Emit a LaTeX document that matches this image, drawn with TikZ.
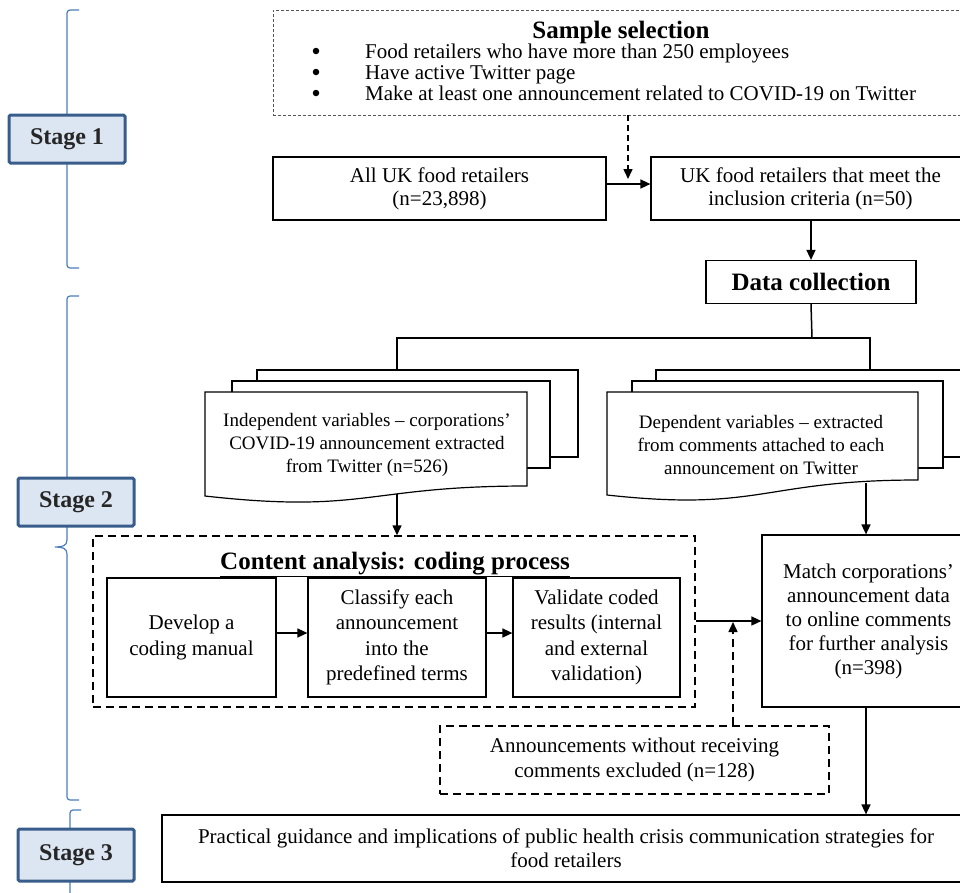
\documentclass[tikz,border=0pt]{standalone}
\usepackage{fontspec}
\setmainfont{Liberation Serif}
\usetikzlibrary{arrows.meta}
\definecolor{stageborder}{HTML}{385D8A}
\definecolor{stagefill}{HTML}{DCE6F2}
\definecolor{braceblue}{HTML}{4A7EBB}
\definecolor{selgray}{HTML}{555555}
\begin{document}
\begin{tikzpicture}[x=1pt,y=-1pt,
  txt/.style={font=\fontsize{21}{23}\selectfont, align=center, inner sep=0pt},
  doctxt/.style={font=\fontsize{19}{23}\selectfont, align=center, inner sep=0pt},
  box/.style={txt, draw, line width=1.2pt, fill=white},
  title/.style={font=\fontsize{25}{28}\selectfont\bfseries, inner sep=0pt},
  arr/.style={-{Triangle[length=10pt,width=9pt]}, line width=1.5pt},
  ln/.style={line width=1.5pt},
  dashbox/.style={draw, line width=1.5pt, dash pattern=on 8pt off 5pt},
  dasharr/.style={-{Triangle[length=10pt,width=9pt]}, line width=1.5pt, dash pattern=on 8pt off 5pt},
  docline/.style={line width=1.2pt, fill=white},
  stagebox/.style={draw=stageborder, line width=3pt, fill=stagefill, rounded corners=1.5pt,
    minimum width=116pt, font=\fontsize{24}{28}\selectfont\bfseries, text=black!85},
  brace/.style={draw=braceblue, line width=1.2pt, rounded corners=3pt},
  bul/.style={circle, fill=black, inner sep=0pt, minimum size=6.5pt}
]
\useasboundingbox (0,0) rectangle (960,892);
\clip (0,0) rectangle (960,892);

% ---- stage braces
\draw[brace] (79,10) -- (67,10) -- (67,268) -- (79,268);
\draw[brace] (79,296) -- (67,296) -- (67,540);
\draw[draw=braceblue, line width=1.2pt] (67,540) .. controls (67,546) and (62,547) .. (55,547)
   .. controls (62,547) and (67,548) .. (67,554);
\draw[brace] (67,554) -- (67,800) -- (79,800);
\draw[brace] (81,810) -- (70,810) -- (70,900);

% ---- stage boxes
\node[stagebox, minimum height=48pt] (s1) at (67,139) {Stage 1};
\node[stagebox, minimum height=48pt] (s2) at (76,502) {Stage 2};
\node[stagebox, minimum height=52pt] (s3) at (76,855) {Stage 3};

% ---- stage 1
\node[draw=selgray, line width=0.9pt, dash pattern=on 3pt off 2pt, minimum width=693pt, minimum height=105pt, inner sep=0pt] (sel) at (619.5,62.5) {};
\node[title, anchor=base] (seltitle) at (621,38) {Sample selection};
\node[bul] (b1) at (316,51) {};
\node[bul] (b2) at (316,72) {};
\node[bul] (b3) at (316,93) {};
\node[txt, anchor=base west] (c1) at (365,58) {Food retailers who have more than 250 employees};
\node[txt, anchor=base west] (c2) at (365,79) {Have active Twitter page};
\node[txt, anchor=base west] (c3) at (365,100) {Make at least one announcement related to COVID-19 on Twitter};

\node[box, minimum width=333pt, minimum height=63pt] (all) at (439.5,188.5) {All UK food retailers\\(n=23,898)};
\node[box, minimum width=319pt, minimum height=63pt] (meet) at (810.5,188.5) {UK food retailers that meet the\\inclusion criteria (n=50)};
\coordinate (selhit) at (628,179);
\draw[dasharr, dash pattern=on 6pt off 4pt] (sel.south -| selhit) -- (selhit);
\draw[arr] (all.east |- 0,184) -- (meet.west |- 0,184);

\node[box, title, draw, line width=1.2pt, minimum width=210pt, minimum height=43pt] (dc) at (811,282) {Data collection};
\draw[arr] (meet.south -| dc.north) -- (dc.north);

% ---- documents
\coordinate (indtop) at (397,370);
\coordinate (deptop) at (870,370);
\draw[ln] (dc.south) -- (812,338) coordinate (split);
\draw[ln] (indtop) |- (split) -| (deptop);

% left doc
\draw[docline] (257,370) rectangle (578,457);
\draw[docline] (232,381) rectangle (550,468);
\draw[docline] (205,392) -- (527,392) -- (527,486)
   .. controls (366,486) and (366,514) .. (205,496) -- cycle;
\node[doctxt] (ind) at (367,445) {Independent variables -- corporations'\\COVID-19 announcement extracted\\from Twitter (n=526)};
\coordinate (indbot) at (397,494);

% right doc
\draw[docline] (656,370) rectangle (970,457);
\draw[docline] (632,381) rectangle (943,468);
\draw[docline] (607,392) -- (918,392) -- (918,480)
   .. controls (762,480) and (762,512) .. (607,495) -- cycle;
\node[doctxt] (dep) at (761,445) {Dependent variables -- extracted\\from comments attached to each\\announcement on Twitter};
\coordinate (depbot) at (866,483);

% ---- content analysis
\node[dashbox, minimum width=602pt, minimum height=171pt, inner sep=0pt] (ca) at (394,621.5) {};
\node[title, anchor=base] (catitle) at (395,569) {\underline{Content analysis: coding process}};
\node[box, minimum width=169pt, minimum height=119pt, font=\fontsize{21}{25.5}\selectfont] (dev) at (191.5,637.5) {Develop a\\coding manual};
\node[box, minimum width=178pt, minimum height=119pt, font=\fontsize{21}{25.5}\selectfont] (cls) at (397,637.5) {Classify each\\announcement\\into the\\predefined terms};
\node[box, minimum width=167pt, minimum height=119pt, font=\fontsize{21}{25.5}\selectfont] (val) at (596.5,637.5) {Validate coded\\results (internal\\and external\\validation)};
\draw[arr] (dev.east |- 0,633) -- (cls.west |- 0,633);
\draw[arr] (cls.east |- 0,633) -- (val.west |- 0,633);

\draw[arr] (indbot) -- (indbot |- ca.north);

% ---- match
\node[box, minimum width=213pt, minimum height=172pt, font=\fontsize{21}{24}\selectfont] (match) at (868.5,621) {Match corporations'\\announcement data\\to online comments\\for further analysis\\(n=398)};
\draw[arr] (depbot) -- (depbot |- match.north);
\draw[arr] (ca.east |- 0,621) -- (match.west |- 0,621);

\node[dashbox, txt, minimum width=389pt, minimum height=68pt, font=\fontsize{21}{25}\selectfont] (exc) at (634.5,760) {Announcements without receiving\\comments excluded (n=128)};
\coordinate (join) at (733,622);
\draw[dasharr] (exc.north -| join) -- (join);

% ---- stage 3
\node[box, minimum width=808pt, minimum height=67pt, font=\fontsize{21}{24}\selectfont] (final) at (566,848.5) {Practical guidance and implications of public health crisis communication strategies for\\food retailers};
\coordinate (mbot) at (match.south -| depbot);
\draw[arr] (mbot) -- (mbot |- final.north);
\end{tikzpicture}
\end{document}
